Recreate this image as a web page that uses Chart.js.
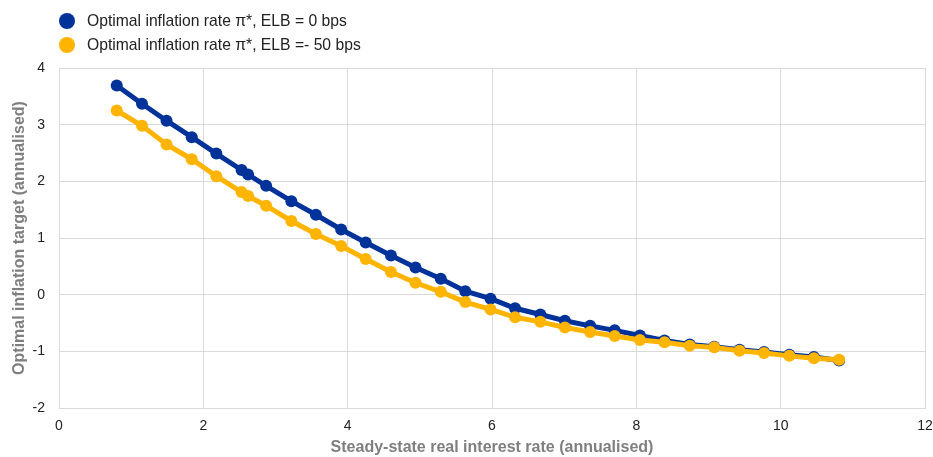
<!DOCTYPE html>
<html>
<head>
<meta charset="utf-8">
<script src="https://cdn.jsdelivr.net/npm/chart.js@4.4.1/dist/chart.umd.min.js"></script>
<style>
  html, body { margin: 0; padding: 0; background: #fff; }
  #wrap { position: relative; width: 933px; height: 457px; }
  #legend { position: absolute; left: 59px; top: 9px; font: 15.7px "Liberation Sans", Arial, sans-serif; color: #222; }
  .item { display: flex; align-items: center; height: 24px; }
  .dot { width: 16px; height: 16px; border-radius: 50%; margin-right: 12px; }
</style>
</head>
<body>
<div id="wrap">
  <canvas id="chart" width="933" height="457"></canvas>
  <div id="legend"></div>
</div>
<script>
// steady-state real interest rate (x)
const rates = [0.80, 1.15, 1.49, 1.84, 2.18, 2.53, 2.62, 2.87, 3.22, 3.56, 3.91, 4.25, 4.60, 4.94, 5.29, 5.63,
  5.98, 6.32, 6.67, 7.01, 7.36, 7.70, 8.05, 8.39, 8.74, 9.08, 9.43, 9.77, 10.12, 10.46, 10.81];

const elb0 = [3.69, 3.37, 3.07, 2.78, 2.49, 2.20, 2.12, 1.92, 1.65, 1.41, 1.15, 0.92, 0.69, 0.48, 0.28, 0.06,
  -0.07, -0.24, -0.35, -0.46, -0.55, -0.63, -0.72, -0.81, -0.88, -0.92, -0.97, -1.01, -1.06, -1.10, -1.16];

const elbMinus50 = [3.25, 2.98, 2.65, 2.39, 2.09, 1.81, 1.74, 1.57, 1.30, 1.07, 0.86, 0.63, 0.40, 0.21, 0.05, -0.13,
  -0.26, -0.40, -0.48, -0.58, -0.66, -0.73, -0.80, -0.84, -0.90, -0.93, -0.99, -1.03, -1.08, -1.12, -1.15];

const seriesLabels = ['Optimal inflation rate \u03c0*, ELB = 0 bps', 'Optimal inflation rate \u03c0*, ELB =- 50 bps'];
const seriesColors = ['#003299', '#ffb400'];

const xTitle = 'Steady-state real interest rate (annualised)';
const yTitle = 'Optimal inflation target (annualised)';

const toPoints = (ys) => ys.map((y, i) => ({ x: rates[i], y: y }));

const gridColor = '#d9d9d9';
const tickFont = { family: '"Liberation Sans", Arial, sans-serif', size: 14 };
const titleFont = { family: '"Liberation Sans", Arial, sans-serif', size: 16, weight: 'bold' };

function makeSet(label, data, color, order) {
    return {
        label: label,
        data: toPoints(data),
        borderColor: color,
        backgroundColor: color,
        pointBackgroundColor: color,
        pointBorderWidth: 0,
        pointRadius: 6,
        borderWidth: 5,
        tension: 0,
        order: order,
    };
}

new Chart(document.getElementById('chart').getContext('2d'), {
    type: 'line',
    data: {
        datasets: [
            makeSet(seriesLabels[0], elb0, seriesColors[0], 1),
            makeSet(seriesLabels[1], elbMinus50, seriesColors[1], 0),
        ],
    },
    options: {
        responsive: false,
        animation: false,
        layout: { padding: { top: 68, right: 2, left: 10, bottom: 0 } },
        plugins: {
            legend: { display: false },
            tooltip: { enabled: false },
        },
        scales: {
            x: {
                type: 'linear',
                min: 0,
                max: 12,
                afterFit: (scale) => { scale.height = 49; scale.paddingRight = 8; },
                ticks: { stepSize: 2, font: tickFont, color: '#222', padding: 10 },
                grid: { color: gridColor, drawTicks: false },
                border: { color: gridColor },
                title: { display: true, text: xTitle, font: titleFont, color: '#7f7f7f', padding: { top: 3, bottom: 0 } },
            },
            y: {
                min: -2,
                max: 4,
                afterFit: (scale) => { scale.width = 49; },
                ticks: { stepSize: 1, font: tickFont, color: '#222', padding: 14 },
                grid: { color: gridColor, drawTicks: false },
                border: { color: gridColor },
                title: { display: true, text: yTitle, font: titleFont, color: '#7f7f7f', padding: { top: 0, bottom: 2 } },
            },
        },
    },
});

// legend, built from the series names and colours
const legend = document.getElementById('legend');
seriesLabels.forEach((label, i) => {
    const row = document.createElement('div');
    row.className = 'item';
    row.innerHTML = '<span class="dot" style="background:' + seriesColors[i] + '"></span><span>' + label + '</span>';
    legend.appendChild(row);
});
</script>
</body>
</html>
